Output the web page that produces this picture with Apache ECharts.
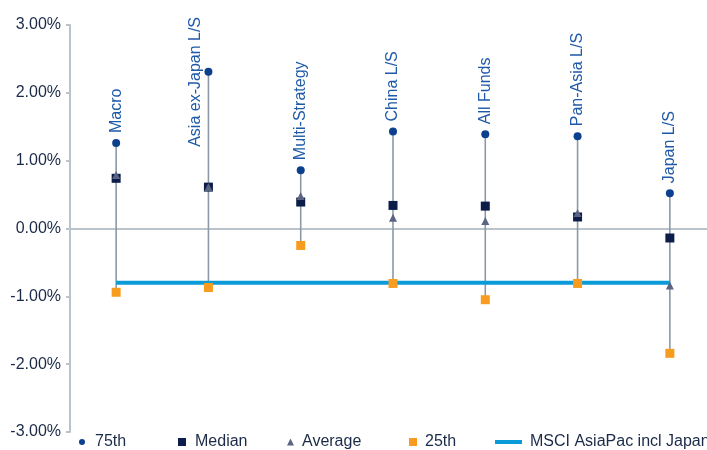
<!DOCTYPE html>
<html><head><meta charset="utf-8">
<script src="https://cdn.jsdelivr.net/npm/echarts@6/dist/echarts.min.js"></script>
<style>html,body{margin:0;padding:0;background:#fff;overflow:hidden;width:707px;height:450px}#c{width:716px;height:450px}</style>
</head><body><div id="c"></div>
<script>
var categories = ['Macro','Asia ex-Japan L/S','Multi-Strategy','China L/S','All Funds','Pan-Asia L/S','Japan L/S'];
var p75 = [1.26, 2.31, 0.86, 1.43, 1.39, 1.36, 0.52];
var median = [0.74, 0.61, 0.39, 0.34, 0.33, 0.17, -0.14];
var average = [0.79, 0.61, 0.48, 0.16, 0.11, 0.23, -0.84];
var p25 = [-0.94, -0.87, -0.25, -0.81, -1.05, -0.81, -1.84];
var msci = [-0.80, -0.80, -0.80, -0.80, -0.80, -0.80, -0.80];
var yTicks = {min: -3, max: 3, step: 1};

var FONT = '"Liberation Sans", Arial, Helvetica, sans-serif';
var TXT = '#1b2a47';
var chart = echarts.init(document.getElementById('c'), null, {renderer: 'canvas'});

var rangeData = categories.map(function (c, i) {
  var vals = [p75[i], median[i], average[i], p25[i]];
  return [i, Math.min.apply(null, vals), Math.max.apply(null, vals)];
});

var labelBase = {show: true, position: 'top', distance: 6, rotate: 90, align: 'left', verticalAlign: 'middle',
  color: '#1f5aa8', fontSize: 16, fontFamily: FONT,
  formatter: function (p) { return categories[p.dataIndex]; }};

var p75Data = p75.map(function (v, i) {
  if (i === 1) {
    return {value: v, label: {position: [-9, 79]}};
  }
  return v;
});

function legendItem(name, left, icon, w, h, pad) {
  return {
    data: [{name: name, icon: icon}],
    left: left, top: 434, itemWidth: w, itemHeight: h,
    padding: 0, selectedMode: false,
    textStyle: {color: TXT, fontSize: 16, fontFamily: FONT, padding: [0, 0, 0, pad]}
  };
}

chart.setOption({
  animation: false,
  grid: {left: 70, right: 0, top: 25, bottom: 18, containLabel: false},
  legend: [
    legendItem('75th', 79, 'circle', 6, 6, 5),
    legendItem('Median', 178, 'rect', 8, 8, 4),
    legendItem('Average', 287, 'triangle', 7, 7, 3),
    legendItem('25th', 409, 'rect', 8, 8, 3),
    legendItem('MSCI AsiaPac incl Japan', 495, 'rect', 27, 4, 3)
  ],
  xAxis: {
    type: 'category', data: categories, boundaryGap: true,
    axisLine: {show: true, onZero: true, lineStyle: {color: '#b9c3c9', width: 2}},
    axisTick: {show: false}, axisLabel: {show: false}, splitLine: {show: false}
  },
  yAxis: {
    type: 'value', min: yTicks.min, max: yTicks.max, interval: yTicks.step,
    axisLine: {show: true, lineStyle: {color: '#b9c3c9', width: 2}},
    axisTick: {show: true, inside: false, length: 4, lineStyle: {color: '#b9c3c9', width: 2}},
    splitLine: {show: false},
    axisLabel: {color: TXT, fontSize: 16, fontFamily: FONT, margin: 9,
      formatter: function (v) { return v.toFixed(2) + '%'; }}
  },
  series: [
    {
      type: 'custom', name: 'range', z: 1, silent: true,
      data: rangeData,
      renderItem: function (params, api) {
        var a = api.coord([api.value(0), api.value(1)]);
        var b = api.coord([api.value(0), api.value(2)]);
        return {type: 'line', shape: {x1: a[0], y1: a[1], x2: b[0], y2: b[1]},
          style: {stroke: '#8b9aa6', lineWidth: 1.6}};
      }
    },
    {
      type: 'line', name: 'MSCI AsiaPac incl Japan', data: msci, z: 2,
      symbol: 'none', lineStyle: {color: '#0c9bd9', width: 4}, itemStyle: {color: '#0c9bd9'}
    },
    {
      type: 'scatter', name: '25th', data: p25, z: 3, symbol: 'rect', symbolSize: 9,
      itemStyle: {color: '#f79c1e', opacity: 1}
    },
    {
      type: 'scatter', name: 'Median', data: median, z: 4, symbol: 'rect', symbolSize: 9,
      itemStyle: {color: '#0b1d48', opacity: 1}
    },
    {
      type: 'scatter', name: 'Average', data: average, z: 5, symbol: 'triangle', symbolSize: 8,
      itemStyle: {color: '#5c6484', opacity: 1}
    },
    {
      type: 'scatter', name: '75th', data: p75Data, z: 6, symbol: 'circle', symbolSize: 8,
      itemStyle: {color: '#0c3f8e', opacity: 1},
      label: labelBase
    }
  ]
});
</script></body></html>
